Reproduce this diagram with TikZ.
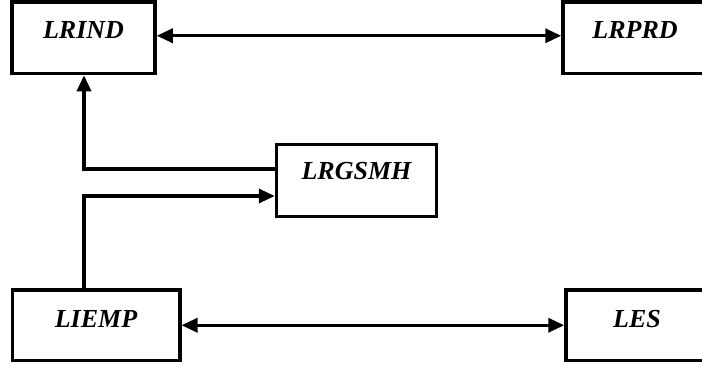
\documentclass[tikz,border=0pt]{standalone}
\usepackage{fontspec}
\setmainfont{Liberation Serif}
\usetikzlibrary{arrows.meta}
\begin{document}
\begin{tikzpicture}[x=1pt,y=-1pt,
  box/.style={draw, line width=3.5pt, inner sep=0pt, minimum height=71.5pt,
    font=\fontsize{26}{30}\selectfont\bfseries\itshape,
    text height=17.2pt, text depth=16pt},
  tip/.style={},
  arr/.style={line width=3.3pt, -{Triangle[length=16pt,width=14pt]}},
  darr/.style={line width=3.3pt, {Triangle[length=16pt,width=14pt]}-{Triangle[length=16pt,width=14pt]}}]
\useasboundingbox (0,0) rectangle (702,367);
\fill[white] (0,0) rectangle (702,367);
\node[box, minimum width=143pt] (LRIND) at (83.5,37.75) {LRIND};
\node[box, minimum width=144pt] (LRPRD) at (635,37.75) {LRPRD};
\node[box, minimum width=160pt, minimum height=72pt, text depth=20pt] (LRGSMH) at (356.5,180.5) {LRGSMH};
\node[box, minimum width=167.5pt, minimum height=70.5pt, text depth=13pt] (LIEMP) at (96,325.25) {LIEMP};
\node[box, minimum width=142pt, minimum height=70.5pt, text depth=13pt] (LES) at (637,325.25) {LES};
\draw[darr] ([yshift=2pt]LRIND.east) -- ([yshift=2pt]LRPRD.west);
\draw[darr] (LIEMP.east) -- (LES.west);
\coordinate (j1) at (84,169);
\coordinate (j2) at (84,196);
\draw[arr] (LRGSMH.west |- j1) -- (j1) -- (j1 |- LRIND.south);
\draw[arr] (j2 |- LIEMP.north) -- (j2) -- (LRGSMH.west |- j2);
\end{tikzpicture}
\end{document}
